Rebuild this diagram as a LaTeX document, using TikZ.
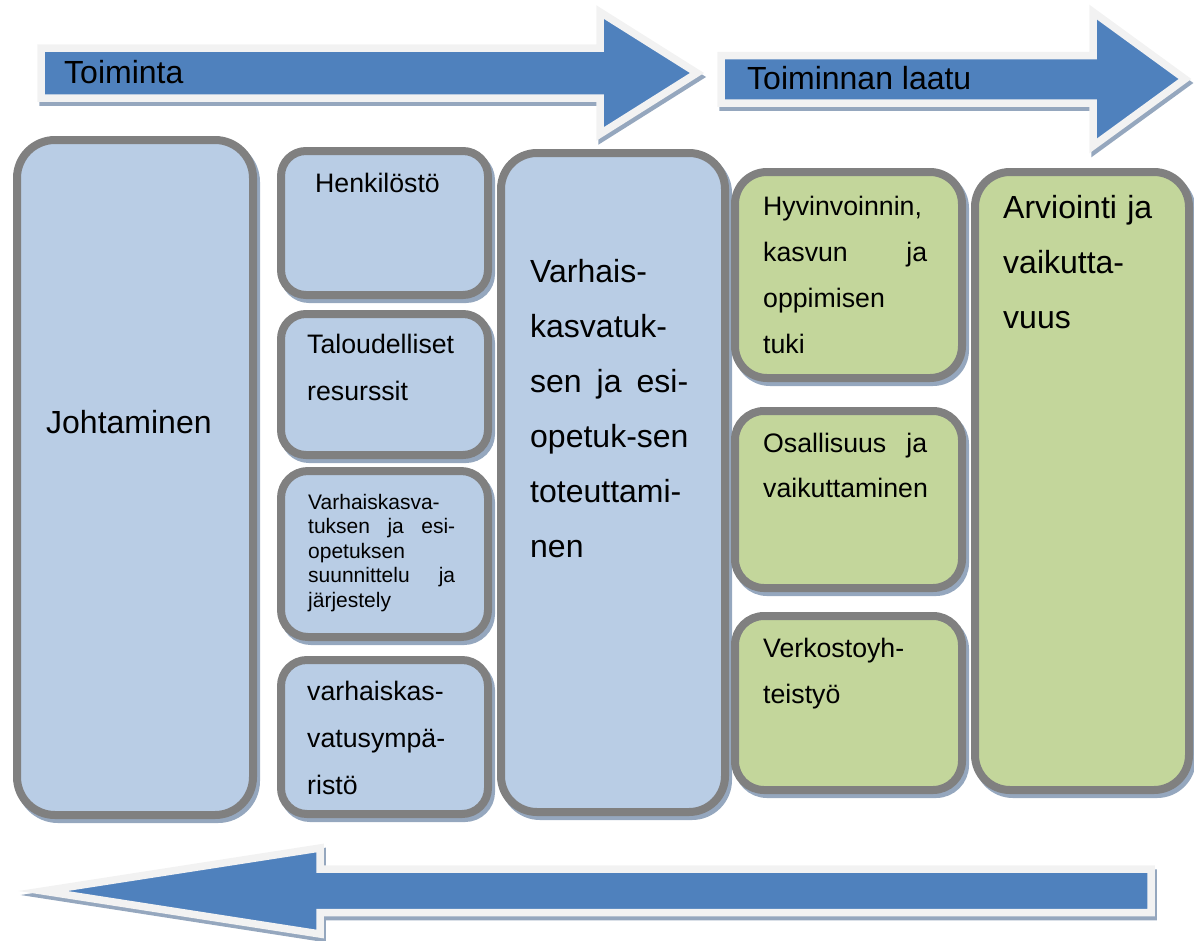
\documentclass[tikz,border=0pt]{standalone}
\usepackage{fontspec}
\setmainfont{Liberation Sans}
\definecolor{boxblue}{HTML}{B9CDE5}
\definecolor{boxgreen}{HTML}{C3D69B}
\definecolor{boxgray}{HTML}{808080}
\definecolor{shadowc}{HTML}{95A7BE}
\definecolor{arrowblue}{HTML}{4F81BD}
\definecolor{arrowedge}{HTML}{F2F2F2}
\tikzset{
  card/.style={draw=boxgray, line width=8pt, rounded corners=#1, inner sep=0pt,
    anchor=north west, shape=rectangle,
    preaction={draw=shadowc, fill=shadowc, line width=8pt,
      transform canvas={shift={(3pt,-4pt)}}}},
  bluecard/.style={card=#1, fill=boxblue},
  greencard/.style={card=#1, fill=boxgreen},
  bigtxt/.style={anchor=base west, inner sep=0pt, align=left, font=\fontsize{32}{55}\selectfont},
  midtxt/.style={anchor=base west, inner sep=0pt, align=left, font=\fontsize{26.7}{47}\selectfont},
  smalltxt/.style={anchor=base west, inner sep=0pt, align=left, font=\fontsize{21}{24.5}\selectfont},
  bigarrow/.style={fill=arrowblue, draw=arrowedge, line width=7.5pt, line join=miter,
    preaction={draw=shadowc, fill=shadowc, line width=7.5pt,
      transform canvas={shift={(2pt,-4pt)}}}},
}
\begin{document}
\begin{tikzpicture}[x=1pt,y=-1pt]
\useasboundingbox (0,0) rectangle (1194,940);
% boxes
\node[bluecard=38, minimum width=236pt, minimum height=675pt] (johto) at (13,136) {};
\node[bluecard=25, minimum width=207pt, minimum height=144pt] (henk) at (277,147) {};
\node[bluecard=25, minimum width=207pt, minimum height=141pt] (talous) at (277,310) {};
\node[bluecard=27, minimum width=207pt, minimum height=166pt] (suunn) at (277,467) {};
\node[bluecard=26, minimum width=207pt, minimum height=154pt] (ymp) at (277,656) {};
\node[bluecard=36, minimum width=224pt, minimum height=659pt] (toteutus) at (497,149) {};
\node[greencard=32, minimum width=227pt, minimum height=206pt] (hyvin) at (731,168) {};
\node[greencard=29, minimum width=227pt, minimum height=177pt] (osall) at (731,407) {};
\node[greencard=29, minimum width=227pt, minimum height=174pt] (verkko) at (731,612) {};
\node[greencard=35, minimum width=214pt, minimum height=618pt] (arvio) at (971,168) {};
% texts (multi-line nodes: base = last line)
\node[bigtxt] (tjohto) at (46,433) {Johtaminen};
\node[midtxt] (thenk) at (315,192) {Henkilöstö};
\node[midtxt] (ttalous) at (307,400) {Taloudelliset\\resurssit};
\node[smalltxt] (tsuunn) at (308,607) {Varhaiskasva-\\\makebox[147pt][s]{tuksen ja esi-}\\opetuksen\\\makebox[147pt][s]{suunnittelu ja}\\järjestely};
\node[midtxt] (tymp) at (307,794) {varhaiskas-\\vatusympä-\\ristö};
\node[bigtxt] (ttoteutus) at (530,557) {Varhais-\\kasvatuk-\\\makebox[158pt][s]{sen ja esi-}\\opetuk-sen\\toteuttami-\\nen};
\node[midtxt, font=\fontsize{26.7}{46}\selectfont] (thyvin) at (763,353) {Hyvinvoinnin,\\\makebox[164pt][s]{kasvun ja}\\oppimisen\\tuki};
\node[midtxt, font=\fontsize{26.7}{45}\selectfont] (tosall) at (763,497) {\makebox[164pt][s]{Osallisuus ja}\\vaikuttaminen};
\node[midtxt, font=\fontsize{26.7}{46}\selectfont] (tverkko) at (763,703) {Verkostoyh-\\teistyö};
\node[bigtxt] (tarvio) at (1003,328) {\makebox[149pt][s]{Arviointi ja}\\vaikutta-\\vuus};
% arrows
\draw[bigarrow] (41,48) -- (600,48) -- (600,12) -- (697,73) -- (600,134) -- (600,98) -- (41,98) -- cycle;
\draw[bigarrow] (721,55.5) -- (1093,55.5) -- (1093,12) -- (1185,79) -- (1093,146) -- (1093,103) -- (721,103) -- cycle;
\draw[bigarrow] (1151,869) -- (320,869) -- (320,848) -- (43,891) -- (320,934) -- (320,912.5) -- (1151,912.5) -- cycle;
\node[bigtxt] (toim) at (64,83) {Toiminta};
\node[bigtxt] (laatu) at (747,89) {Toiminnan laatu};
\end{tikzpicture}
\end{document}
